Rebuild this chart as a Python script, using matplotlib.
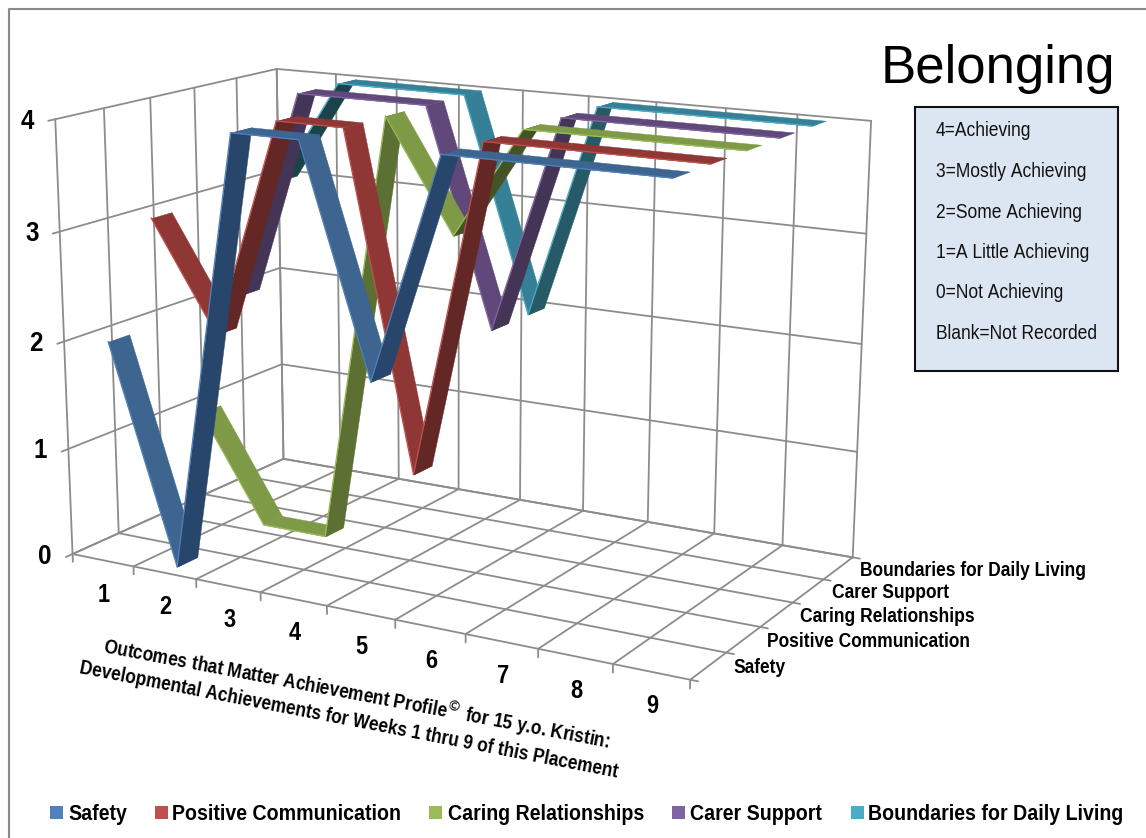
import os
import tempfile
import numpy as np
import matplotlib
matplotlib.use("Agg")
import matplotlib.pyplot as plt
from matplotlib import font_manager as fm
from matplotlib.colors import to_rgb
from matplotlib.lines import Line2D
from matplotlib.patches import Rectangle
from mpl_toolkits.mplot3d.art3d import Poly3DCollection
from fontTools.ttLib import TTFont

# ---------- data ----------
weeks = [1, 2, 3, 4, 5, 6, 7, 8, 9]
series_names = ["Safety", "Positive Communication", "Caring Relationships",
                "Carer Support", "Boundaries for Daily Living"]
safety = [2, 0, 4, 4, 2, 4, 4, 4, 4]
positive = [3, 2, 4, 4, 1, 4, 4, 4, 4]
caring = [1, 0, 0, 4, 3, 4, 4, 4, 4]
carer = [2, 4, 4, 4, 2, 4, 4, 4, 4]
boundaries = [3, 4, 4, 4, 2, 4, 4, 4, 4]
all_series = [safety, positive, caring, carer, boundaries]
value_ticks = [0, 1, 2, 3, 4]
scale_notes = ["4=Achieving", "3=Mostly Achieving", "2=Some Achieving",
               "1=A Little Achieving", "0=Not Achieving", "Blank=Not Recorded"]
title = "Belonging"
axis_title = ["Outcomes that Matter Achievement Profile$^{\\copyright}$ for 15 y.o. Kristin:",
              "Developmental Achievements for Weeks 1 thru 9 of this Placement"]

# ---------- style ----------
legend_cols = ["#4F81BD", "#C0504D", "#9BBB59", "#8064A2", "#4BACC6"]
fall_cols = ["#3D6590", "#8E3735", "#7E9A47", "#60497A", "#357F97"]
rise_cols = ["#28466C", "#632826", "#5C7034", "#443456", "#255A66"]
GRID = "#8C8C8C"
W, H = 1146, 838


def narrowed(weight, factor):
    """A horizontally condensed copy of Liberation Sans, as in the reference's squeezed type."""
    src = fm.findfont(fm.FontProperties(family="Liberation Sans", weight=weight))
    font = TTFont(src)
    glyf = font["glyf"]
    hmtx = font["hmtx"]
    for name in font.getGlyphOrder():
        g = glyf[name]
        if g.isComposite():
            for comp in g.components:
                comp.x = int(round(comp.x * factor))
        elif g.numberOfContours > 0:
            g.coordinates.scale((factor, 1))
            g.coordinates.toInt()
        adv, lsb = hmtx[name]
        hmtx[name] = (int(round(adv * factor)), int(round(lsb * factor)))
    for name in font.getGlyphOrder():
        glyf[name].recalcBounds(glyf)
    if "kern" in font:
        del font["kern"]
    path = os.path.join(tempfile.mkdtemp(), f"narrow_{weight}.ttf")
    font.save(path)
    return path


BOLD_FILE = narrowed("bold", 0.87)
REG_FILE = narrowed("normal", 0.86)


def bold(size):
    return fm.FontProperties(fname=BOLD_FILE, size=size)


def regular(size):
    return fm.FontProperties(fname=REG_FILE, size=size)


fig = plt.figure(figsize=(W / 100, H / 100), dpi=100, facecolor="white")
ax = fig.add_axes([0, 0, 1, 1], projection="3d")
ax.set_axis_off()
ax.computed_zorder = False
ax.patch.set_alpha(0)
ax.set_proj_type("ortho")

# camera: perspective matrix fitted to the box corners of the plot (pixels)
world = [(.5, 0, 0), (9.5, 0, 0), (.5, 5, 0), (9.5, 5, 0), (.5, 0, 4), (.5, 5, 4), (9.5, 5, 4)]
pixel = [(73, 554), (690, 680), (283, 459), (853, 557), (55, 119), (277, 69), (871, 121)]
A, b = [], []
for (X, Y, Z), (u, v) in zip(world, pixel):
    A.append([X, Y, Z, 1, 0, 0, 0, 0, -u * X, -u * Y, -u * Z]); b.append(u)
    A.append([0, 0, 0, 0, X, Y, Z, 1, -v * X, -v * Y, -v * Z]); b.append(v)
h = np.linalg.lstsq(np.array(A, float), np.array(b, float), rcond=None)[0]
P = np.append(h, 1.0).reshape(3, 4)
centre = np.linalg.svd(P)[2][-1]
M = np.vstack([P[0], P[1], centre, P[2]])
ax.get_proj = lambda: M
ax.apply_aspect = lambda position=None: None
ax.viewLim.intervalx = (0, W)
ax.viewLim.intervaly = (H, 0)


def px(x, y, z):
    p = P @ np.array([x, y, z, 1.0])
    return p[0] / p[2], p[1] / p[2]


# ---------- walls, floor, ticks ----------
def grid(xs, ys, zs):
    ax.plot(xs, ys, zs, color=GRID, lw=1.3, zorder=1, solid_capstyle="round")


xmin, xmax, ymin, ymax = 0.5, 9.5, 0, 5
zmax = value_ticks[-1]
for k in range(len(weeks) + 1):
    x = xmin + k
    grid([x, x], [ymin, ymax], [0, 0])
    grid([x, x], [ymax, ymax], [0, zmax])
    grid([x, x], [ymin, ymin], [0, -0.075])
for k in range(len(series_names) + 1):
    y = ymin + k
    grid([xmin, xmax], [y, y], [0, 0])
    grid([xmin, xmin], [y, y], [0, zmax])
    grid([xmax, xmax + 0.1], [y, y], [0, 0])
for z in value_ticks:
    grid([xmin, xmax], [ymax, ymax], [z, z])
    grid([xmin, xmin], [ymin, ymax], [z, z])
    grid([xmin, xmin], [ymin, ymin - 0.14], [z, z])

# ---------- ribbons, back to front ----------
half = 0.225
for i in range(len(all_series) - 1, -1, -1):
    vals = all_series[i]
    yc = i + 0.5
    base = 10 + (len(all_series) - i) * 10
    for j in range(len(vals) - 1):
        x0, x1 = weeks[j], weeks[j + 1]
        z0, z1 = vals[j], vals[j + 1]
        quad = [(x0, yc - half, z0), (x1, yc - half, z1), (x1, yc + half, z1), (x0, yc + half, z0)]
        if z1 > z0:
            col = np.array(to_rgb(rise_cols[i]))
            if z1 - z0 == 1:
                col = col * 0.74
        else:
            col = np.array(to_rgb(fall_cols[i]))
        poly = Poly3DCollection([quad], facecolors=[col], edgecolors=[col], linewidths=0.3,
                                zorder=base + j * 0.5)
        ax.add_collection3d(poly)
        ax.plot([x0, x1], [yc - half, yc - half], [z0, z1], color=legend_cols[i], lw=0.9,
                zorder=base + j * 0.5 + 0.1)

# ---------- overlay for text ----------
ov = fig.add_axes([0, 0, 1, 1], facecolor="none")
ov.set_xlim(0, W)
ov.set_ylim(H, 0)
ov.set_axis_off()

ov.add_line(Line2D([8.5, 8.5, W], [H, 9, 9], color="#8A8A8A", lw=1.5))

for w in weeks:
    x, y = px(w, ymin, 0)
    ov.text(x + 1, y + 34.5, str(w), fontproperties=bold(18), ha="center", va="center")
for z in value_ticks:
    x, y = px(xmin, ymin, z)
    ov.text(x - 28, y + 2.5, str(z), fontproperties=bold(20), ha="center", va="center")

label_xy = [(733, 667), (767, 641), (800, 616), (832, 592), (860, 570)]
for name, (x, y) in zip(series_names, label_xy):
    ov.text(x, y, name, fontproperties=bold(14.4), ha="left", va="center")

ov.text(103, 646, axis_title[0], fontproperties=bold(14.3), rotation=-10.7,
        rotation_mode="anchor", ha="left", va="center")
ov.text(80, 668, axis_title[1], fontproperties=bold(14.3), rotation=-11.0,
        rotation_mode="anchor", ha="left", va="center")

ov.text(998, 69.5, title, family="Liberation Sans", fontsize=38, ha="center", va="center", color="black")

ov.add_patch(Rectangle((914.5, 107), 203, 264, facecolor="#DCE6F2", edgecolor="#111111", lw=1.5))
for note, y in zip(scale_notes, [130.5, 171.5, 212.5, 252.5, 292.5, 333.5]):
    ov.text(936, y, note, fontproperties=regular(14.6), ha="left", va="center", color="#111111")

square_x = [50, 155, 429, 672, 851]
text_x = [68, 172, 448, 690, 868]
for name, col, sx, tx in zip(series_names, legend_cols, square_x, text_x):
    ov.add_patch(Rectangle((sx, 806), 13, 13, facecolor=col, edgecolor="none"))
    ov.text(tx, 814, name, fontproperties=bold(16.2), ha="left", va="center")

fig.savefig("out.png", dpi=100)
